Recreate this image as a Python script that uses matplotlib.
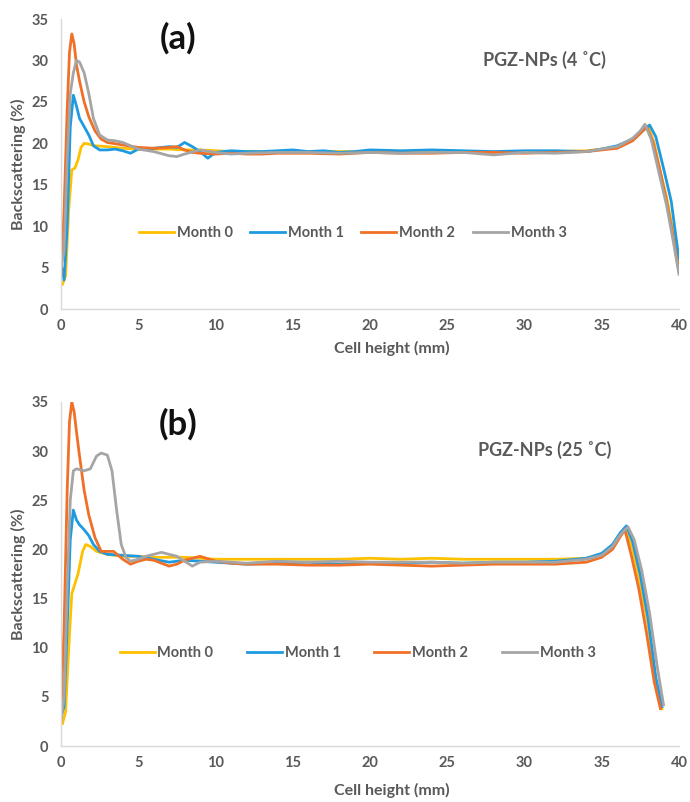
import matplotlib
matplotlib.use("Agg")
import matplotlib.pyplot as plt

plt.rcParams['font.family'] = ['Lato', 'DejaVu Sans']

labels = ["Month 0", "Month 1", "Month 2", "Month 3"]
colors = ["#FFC000", "#1E9BE0", "#F07028", "#A5A5A5"]

# panel (a) 4 C
xa0 = [0.1,0.3,0.5,0.7,0.9,1.1,1.3,1.5,1.8,2.2,3,4,5,6,7,8,9,10,11,12,14,16,18,20,22,24,26,28,30,32,34,35,36,37,37.5,38,38.4,38.8,39.2,39.6,40]
ya0 = [3,4,12,16.8,17,18,19.5,20,19.9,19.7,19.6,19.4,19.3,19.3,19.3,19.2,19.2,19.1,19,19,19,19,19,19,19,19,19,18.9,19,19,19.1,19.3,19.6,20.4,21.2,22.1,20,16.5,13.5,9.5,5]
xa1 = [0,0.2,0.4,0.6,0.8,1.0,1.2,1.5,1.8,2.1,2.5,3,3.5,4,4.5,5,6,7,7.5,8,8.5,9,9.5,10,11,12,13,14,15,16,17,18,19,20,22,24,26,28,30,32,34,35,36,37,37.5,38.1,38.5,39,39.5,40]
ya1 = [5.5,3.5,10,22,25.8,24.5,23,22,21,19.7,19.2,19.2,19.3,19.1,18.8,19.3,19.4,19.6,19.5,20.1,19.6,19,18.2,18.9,19.1,19,19,19.1,19.2,19,19.1,18.9,19,19.2,19.1,19.2,19.1,19,19.1,19.1,19,19.3,19.7,20.5,21.3,22.2,20.8,17,13,6]
xa2 = [0,0.2,0.4,0.55,0.7,0.85,1.0,1.2,1.5,1.8,2.2,2.6,3,4,5,6,7,7.5,8,8.5,9,10,11,12,13,14,16,18,20,22,24,26,28,30,32,34,35,36,37,37.5,37.9,38.3,38.8,39.2,39.6,40]
ya2 = [4,12,24,31,33.2,32,29.5,27.5,25,23.2,21.5,20.5,20.1,19.8,19.5,19.4,19.5,19.6,19.2,18.9,18.8,18.7,18.8,18.7,18.7,18.8,18.8,18.7,18.9,18.8,18.8,18.9,18.9,18.8,18.9,19,19.2,19.4,20.3,21.2,22,20.3,16.5,13,9,4.5]
xa3 = [0,0.2,0.4,0.6,0.8,1.0,1.2,1.5,1.8,2.1,2.5,3,3.5,4,5,6,7,7.5,8,9,10,11,12,14,16,18,20,22,24,26,28,30,32,34,35,36,37,37.5,37.8,38.2,38.7,39.2,39.6,40]
ya3 = [5,7,18,26,28.5,30,29.8,28.5,26,23,21,20.4,20.3,20.1,19.3,19,18.5,18.4,18.7,19.2,18.9,18.7,18.8,18.9,18.9,18.8,18.9,18.8,18.9,18.9,18.6,18.9,18.8,19,19.3,19.6,20.6,21.5,22.3,20.5,16.5,12.5,8.5,4.2]

# panel (b) 25 C
xb0 = [0.1,0.3,0.5,0.7,0.9,1.1,1.4,1.6,1.9,2.3,3,4,5,6,7,8,9,10,12,14,16,18,20,22,24,26,28,30,32,34,35,35.7,36.2,36.6,37,37.5,38,38.5,38.9]
yb0 = [2.3,3.5,10,15.5,16.5,17.5,19.8,20.5,20.3,19.8,19.5,19.3,19.3,19.2,19.2,19.2,19.1,19,19,19,19,19,19.1,19,19.1,19,19,19,19,19.1,19.5,20.3,21.5,22,20,16.5,12.3,6.5,3.8]
xb1 = [0,0.2,0.4,0.6,0.8,1.0,1.2,1.5,1.8,2.1,2.5,3,4,5,6,7,8,9,10,12,14,16,18,20,22,24,26,28,30,32,34,35,35.7,36.2,36.6,37,37.5,38,38.5,38.9]
yb1 = [3,4,12,21,24,23,22.5,22,21.4,20.5,19.8,19.5,19.4,19.3,19,18.7,18.9,18.8,18.7,18.5,18.6,18.7,18.5,18.6,18.6,18.7,18.6,18.7,18.7,18.8,19.1,19.6,20.5,21.7,22.4,20.8,17.4,13,7,4]
xb2 = [0,0.2,0.4,0.55,0.7,0.85,1.0,1.2,1.5,1.8,2.2,2.6,3,3.4,4,4.5,5,5.5,6,6.5,7,7.5,8,8.5,9,10,11,12,14,16,18,20,22,24,26,28,30,32,34,35,35.7,36.2,36.5,36.9,37.4,37.9,38.4,38.8]
yb2 = [3.5,12,26,33,35,34,32,29.5,26,23.5,21.2,19.8,19.8,19.8,19,18.5,18.8,19,18.9,18.6,18.3,18.5,18.9,19.1,19.3,18.8,18.6,18.5,18.5,18.4,18.4,18.5,18.4,18.3,18.4,18.5,18.5,18.5,18.7,19.2,20,21.3,22,19.5,16,11.5,6.5,3.8]
xb3 = [0,0.2,0.4,0.6,0.8,1.0,1.5,1.9,2.3,2.6,3.0,3.3,3.6,3.9,4.2,4.5,5,5.5,6,6.5,7,7.5,8,8.5,9,10,12,14,16,18,20,22,24,26,28,30,32,34,35,35.7,36.2,36.7,37.1,37.6,38.1,38.6,39]
yb3 = [2.5,5,16,25,28,28.2,28,28.2,29.5,29.8,29.6,28,24,20.5,19.2,18.8,19,19.3,19.5,19.7,19.5,19.3,18.8,18.3,18.7,18.8,18.6,18.8,18.7,18.8,18.7,18.7,18.7,18.6,18.7,18.7,18.7,19,19.4,20.3,21.5,22.3,21,17.8,13.5,8,4.2]

panels = [
    ([(xa0, ya0), (xa1, ya1), (xa2, ya2), (xa3, ya3)], "(a)", "PGZ-NPs (4 ˚C)"),
    ([(xb0, yb0), (xb1, yb1), (xb2, yb2), (xb3, yb3)], "(b)", "PGZ-NPs (25 ˚C)"),
]

txt = "#595959"
fig = plt.figure(figsize=(6.9, 8.02), dpi=100)
ax_a = fig.add_axes([0.0884, 0.6147, 0.8956, 0.3616])
ax_b = fig.add_axes([0.0884, 0.0698, 0.8956, 0.4290])

settings = [(ax_a, panels[0], 0.262, 1.2, 0.472, -0.11),
            (ax_b, panels[1], 0.27, 2.3, 0.48, -0.108)]

for ax, (series, tag, title), leg_y, colsp, leg_x, xlab_y in settings:
    for (x, y), c, lab in zip(series, colors, labels):
        ax.plot(x, y, color=c, lw=2.0, label=lab)
    ax.set_xlim(0, 40)
    ax.set_ylim(0, 35)
    ax.set_xticks(range(0, 41, 5))
    ax.set_yticks(range(0, 36, 5))
    for s in ["top", "right"]:
        ax.spines[s].set_visible(False)
    for s in ["left", "bottom"]:
        ax.spines[s].set_color("#D9D9D9")
        ax.spines[s].set_linewidth(1.0)
    ax.tick_params(length=0, labelsize=10.5, labelcolor=txt)
    ax.tick_params(axis="y", pad=9)
    ax.tick_params(axis="x", pad=7)
    for t in ax.get_xticklabels() + ax.get_yticklabels():
        t.set_fontweight("bold")
    ax.set_xlabel("Cell height (mm)", fontsize=11.5, color=txt, fontweight="bold")
    ax.set_ylabel("Backscattering (%)", fontsize=11.5, color=txt, fontweight="bold")
    ax.xaxis.set_label_coords(0.535, xlab_y)
    ax.text(0.19, 0.935, tag, transform=ax.transAxes, fontsize=25, fontweight="bold",
            ha="center", va="center", color="#111111")
    ax.text(0.783, 0.86, title, transform=ax.transAxes, fontsize=13, fontweight="bold",
            ha="center", va="center", color=txt)
    leg = ax.legend(loc="center", bbox_to_anchor=(leg_x, leg_y), ncol=4, frameon=False,
                    fontsize=10.5, handlelength=2.4, handletextpad=0.2, columnspacing=colsp)
    for t in leg.get_texts():
        t.set_color(txt)
        t.set_fontweight("bold")

fig.savefig("out.png", dpi=100)
